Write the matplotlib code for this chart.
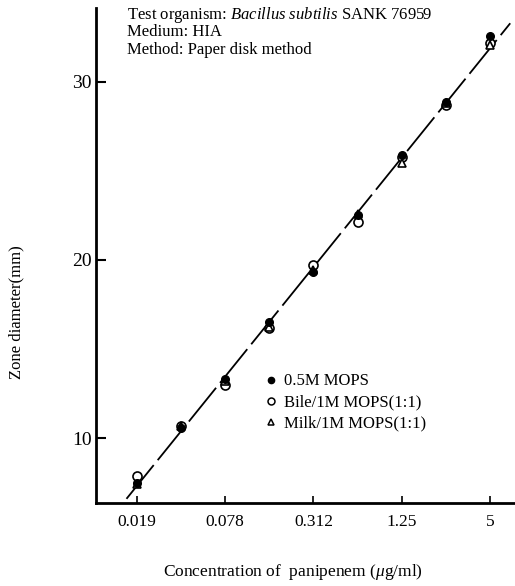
import numpy as np
import matplotlib.pyplot as plt
from matplotlib.lines import Line2D

plt.rcParams['font.family'] = ['Liberation Serif', 'DejaVu Serif']
plt.rcParams['mathtext.fontset'] = 'custom'
plt.rcParams['mathtext.rm'] = 'Liberation Serif'
plt.rcParams['mathtext.it'] = 'Liberation Serif:italic'

# ---- Data: zone diameter (mm) vs panipenem concentration (ug/ml) ----
conc = [0.0195, 0.039, 0.078, 0.156, 0.312, 0.625, 1.25, 2.5, 5.0]
zone_mops = [7.45, 10.55, 13.3, 16.5, 19.35, 22.5, 25.9, 28.9, 32.6]
zone_bile = [7.85, 10.65, 13.0, 16.2, 19.7, 22.15, 25.8, 28.7, 32.2]
zone_milk = [7.4, 10.7, 13.2, 16.25, 19.45, 22.6, 25.45, 28.8, 32.1]

tick_conc = [0.0195, 0.078, 0.312, 1.25, 5.0]
tick_labels = ["0.019", "0.078", "0.312", "1.25", "5"]
y_ticks = [10, 20, 30]

series_labels = ["0.5M MOPS", "Bile/1M MOPS(1:1)", "Milk/1M MOPS(1:1)"]

# ---- Figure ----
fig = plt.figure(figsize=(5.15, 5.86), dpi=100)
ax = fig.add_axes([0.1864, 0.1416, 0.8136, 0.8447])

# regression line through all points (linear in log2 concentration)
lx = np.log2(np.array(conc * 3))
ly = np.array(zone_mops + zone_bile + zone_milk)
slope, icpt = np.polyfit(lx, ly, 1)
x0 = np.log2(conc[0]) - 0.23
x1 = np.log2(conc[-1]) + 0.45
xs = np.array([x0, x1])
ax.plot(2 ** xs, icpt + slope * xs, color="black", lw=1.3,
        dashes=(24, 3.5), zorder=2)

ax.plot(conc, zone_bile, linestyle="none", marker="o", ms=6.5,
        mfc="white", mec="black", mew=1.2, zorder=3)
ax.plot(conc, zone_milk, linestyle="none", marker="^", ms=6,
        mfc="white", mec="black", mew=1.2, zorder=4)
ax.plot(conc, zone_mops, linestyle="none", marker="o", ms=5.5,
        mfc="black", mec="black", zorder=5)

ax.set_xscale("log", base=2)
ax.set_xlim(conc[0] * 2 ** -0.92, conc[0] * 2 ** 8.56)
ax.set_ylim(6.35, 34.15)

ax.set_xticks(tick_conc)
ax.set_xticklabels(tick_labels)
ax.xaxis.set_minor_locator(plt.NullLocator())
ax.set_yticks(y_ticks)

ax.tick_params(axis="x", direction="in", length=5, width=1.2,
               labelsize=12.5, pad=8)
ax.tick_params(axis="y", direction="in", length=7, width=1.5,
               labelsize=14, pad=3)

for side in ("top", "right"):
    ax.spines[side].set_visible(False)
for side in ("left", "bottom"):
    ax.spines[side].set_linewidth(2)

# ---- Legend ----
handles = [
    Line2D([], [], ls="none", marker="o", ms=4.5, mfc="black", mec="black"),
    Line2D([], [], ls="none", marker="o", ms=5, mfc="white", mec="black", mew=1.1),
    Line2D([], [], ls="none", marker="^", ms=4.5, mfc="white", mec="black", mew=1.1),
]
ax.legend(handles, series_labels, loc="upper left",
          bbox_to_anchor=(0.406, 0.262), frameon=False, fontsize=12,
          handlelength=0.6, handletextpad=0.45, labelspacing=0.3,
          borderpad=0, borderaxespad=0)

# ---- Test conditions ----
info = [
    r"Test organism: $\it{Bacillus\ subtilis}$ SANK 76959",
    "Medium: HIA",
    "Method: Paper disk method",
]
for i, line in enumerate(info):
    fig.text(127 / 515, 1 - (15 + 17.5 * i) / 586, line, fontsize=12,
             ha="left", va="center")

# ---- Axis labels ----
fig.text(16 / 515, 1 - 312 / 586, "Zone diameter(mm)", rotation=90,
         fontsize=12, ha="center", va="center")
fig.text(293 / 515, 1 - 572 / 586,
         r"Concentration of  panipenem ($\mu$g/ml)",
         fontsize=12.5, ha="center", va="center")

fig.savefig("out.png", dpi=100)
